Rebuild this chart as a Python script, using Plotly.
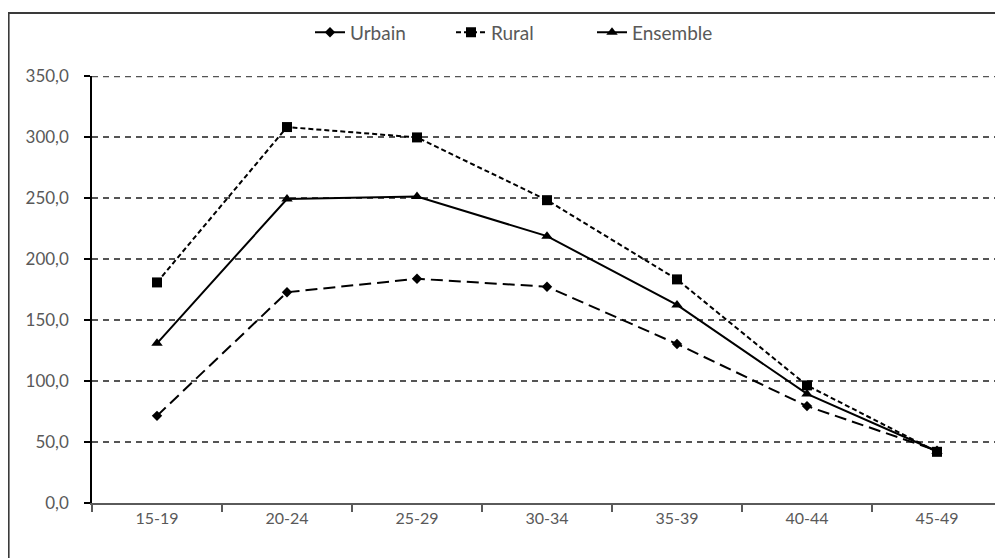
import plotly.graph_objects as go

categories = ["15-19", "20-24", "25-29", "30-34", "35-39", "40-44", "45-49"]
urbain = [71.5, 173.0, 184.0, 177.5, 130.5, 79.5, 43.0]
rural = [181.0, 308.5, 300.0, 248.5, 183.5, 96.5, 42.0]
ensemble = [131.0, 249.5, 251.5, 219.0, 162.5, 89.5, 42.5]
y_ticks = [0, 50, 100, 150, 200, 250, 300, 350]
y_tick_labels = ["0,0", "50,0", "100,0", "150,0", "200,0", "250,0", "300,0", "350,0"]

FONT = "Lato"
TXT = "#595959"

fig = go.Figure()
fig.add_trace(go.Scatter(
    x=categories, y=urbain, name="Urbain", mode="lines+markers",
    line=dict(color="black", width=2, dash="12px,6px"),
    marker=dict(symbol="diamond", size=8, color="black"),
))
fig.add_trace(go.Scatter(
    x=categories, y=rural, name="Rural", mode="lines+markers",
    line=dict(color="black", width=2, dash="5px,3px"),
    marker=dict(symbol="square", size=10, color="black"),
))
fig.add_trace(go.Scatter(
    x=categories, y=ensemble, name="Ensemble", mode="lines+markers",
    line=dict(color="black", width=2),
    marker=dict(symbol="triangle-up", size=10, color="black"),
))

# page body has an 8px margin: figure sits at (8, 8) in the window
fig.update_layout(
    width=995, height=550,
    margin=dict(l=84, r=1, t=68, b=55),
    paper_bgcolor="white", plot_bgcolor="white",
    font=dict(family=FONT, size=16, color=TXT),
    showlegend=True,
    legend=dict(orientation="h", x=(310 - 92) / 910, xanchor="left", y=1.102, yanchor="middle",
                font=dict(family=FONT, size=19, color=TXT),
                bgcolor="rgba(0,0,0,0)", entrywidth=96, entrywidthmode="pixels",
                tracegroupgap=0),
    xaxis=dict(
        type="category", categoryorder="array", categoryarray=categories,
        range=[-0.5, 6.5],
        showgrid=False, zeroline=False,
        showline=True, linecolor="#5a5a5a", linewidth=2,
        ticks="outside", ticklen=7, tickcolor="#5a5a5a", tickwidth=1.5,
        tickson="boundaries",
        tickfont=dict(family=FONT, size=16, color=TXT),
    ),
    yaxis=dict(
        range=[0, 350.4], tickvals=y_ticks, ticktext=y_tick_labels,
        showgrid=True, gridcolor="#555555", gridwidth=1.5, griddash="6px,5px",
        zeroline=False,
        showline=True, linecolor="black", linewidth=1.5,
        ticks="outside", ticklen=6, tickcolor="black", tickwidth=1.5,
        ticklabelstandoff=12,
        tickfont=dict(family=FONT, size=17, color=TXT),
    ),
    shapes=[
        dict(
            type="rect", xref="paper", yref="paper",
            x0=(8.5 - 92) / 910, x1=1.2,
            y0=-0.3, y1=(503 - 13) / 427,
            line=dict(color="#3a3a3a", width=2.2), fillcolor="rgba(0,0,0,0)",
            layer="below",
        ),
        dict(
            type="line", xref="paper", yref="y",
            x0=0, x1=1, y0=y_ticks[-1], y1=y_ticks[-1],
            line=dict(color="#555555", width=1.5, dash="6px,5px"),
            layer="below",
        ),
    ],
)

fig.write_html("out.html")
